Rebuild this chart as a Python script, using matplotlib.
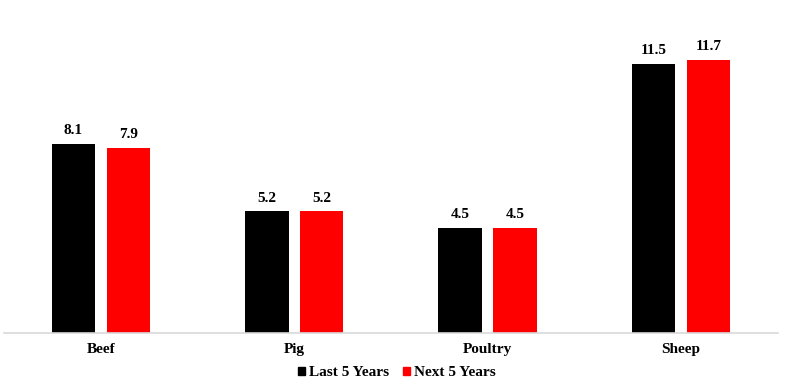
import matplotlib
matplotlib.use("Agg")
import matplotlib.pyplot as plt
import numpy as np
from matplotlib.patches import Patch

categories = ["Beef", "Pig", "Poultry", "Sheep"]
last5 = [8.1, 5.2, 4.5, 11.5]
next5 = [7.9, 5.2, 4.5, 11.7]
series_names = ["Last 5 Years", "Next 5 Years"]
colors = ["#000000", "#FF0000"]

plt.rcParams['font.family'] = ['Liberation Serif', 'DejaVu Serif']

fig = plt.figure(figsize=(7.87, 3.9), dpi=100)
ax = fig.add_axes([4.3/787, (390-333)/390, 773.3/787, 326/390])

x = np.arange(len(categories))
w = 0.225
off = 0.142
b1 = ax.bar(x - off, last5, w, color=colors[0])
b2 = ax.bar(x + off, next5, w, color=colors[1])

for bars, vals in ((b1, last5), (b2, next5)):
    for r, v in zip(bars, vals):
        ax.annotate(f"{v:.1f}", (r.get_x() + r.get_width()/2, v),
                    xytext=(0, 5), textcoords="offset points",
                    ha="center", va="bottom", fontsize=11, fontweight="bold")

ax.set_xlim(-0.5, len(categories) - 0.5)
ax.set_ylim(0, 13.95)
ax.set_xticks(x)
ax.set_xticklabels(categories, fontsize=11, fontweight="bold")
ax.tick_params(axis='x', length=0, pad=7)
ax.set_yticks([])
for s in ("top", "right", "left"):
    ax.spines[s].set_visible(False)
ax.spines["bottom"].set_color("#d9d9d9")
ax.spines["bottom"].set_linewidth(1.2)

handles = [Patch(color=c, label=n) for c, n in zip(colors, series_names)]
fig.legend(handles=handles, loc="center", bbox_to_anchor=(397/787, 1 - 373/390),
           ncol=2, frameon=False, handlelength=0.45, handleheight=0.45,
           handletextpad=0.25, columnspacing=0.9,
           prop={'size': 11, 'weight': 'bold'})

fig.savefig("out.png", dpi=100)
